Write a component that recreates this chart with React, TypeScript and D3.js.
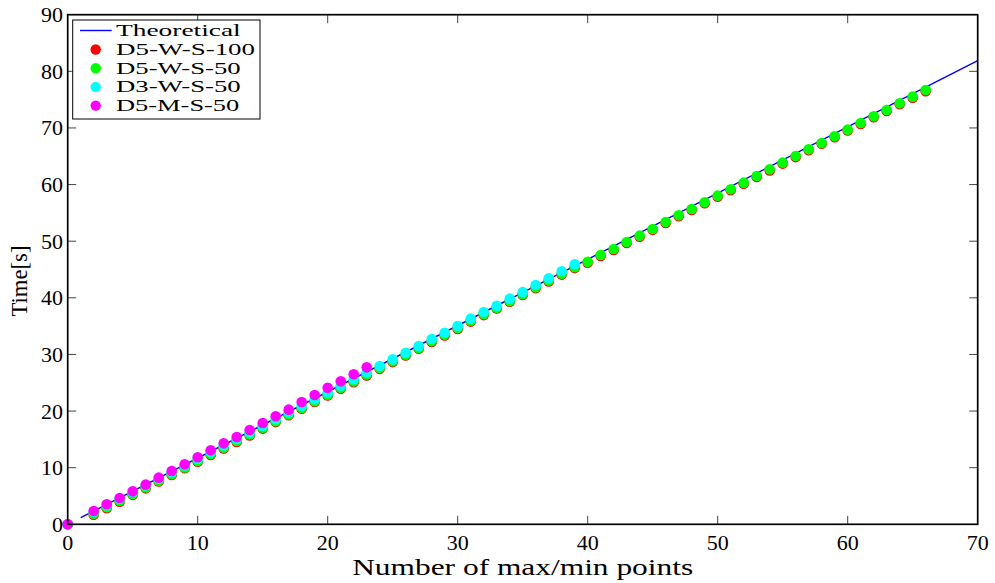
import React from "react";
import * as d3 from "d3";

// Number of max/min points for each run
const longRunX = [0, 2, 3, 4, 5, 6, 7, 8, 9, 10, 11, 12, 13, 14, 15, 16, 17, 18, 19, 20, 21, 22, 23, 24, 25, 26, 27, 28, 29, 30, 31, 32, 33, 34, 35, 36, 37, 38, 39, 40, 41, 42, 43, 44, 45, 46, 47, 48, 49, 50, 51, 52, 53, 54, 55, 56, 57, 58, 59, 60, 61, 62, 63, 64, 65, 66];
const midRunX = [0, 2, 3, 4, 5, 6, 7, 8, 9, 10, 11, 12, 13, 14, 15, 16, 17, 18, 19, 20, 21, 22, 23, 24, 25, 26, 27, 28, 29, 30, 31, 32, 33, 34, 35, 36, 37, 38, 39];
const shortRunX = [0, 2, 3, 4, 5, 6, 7, 8, 9, 10, 11, 12, 13, 14, 15, 16, 17, 18, 19, 20, 21, 22, 23];

// Measured times [s]
const d5ws100 = [0, 1.7, 2.85, 4.0, 5.2, 6.35, 7.55, 8.7, 9.9, 11.05, 12.25, 13.4, 14.55, 15.7, 16.9, 18.05, 19.25, 20.4, 21.6, 22.75, 23.95, 25.1, 26.3, 27.45, 28.65, 29.8, 31.0, 32.2, 33.35, 34.5, 35.8, 36.95, 38.1, 39.3, 40.5, 41.7, 42.9, 44.1, 45.25, 46.2, 47.4, 48.45, 49.7, 50.8, 52.0, 53.2, 54.4, 55.5, 56.7, 57.85, 59.0, 60.15, 61.35, 62.5, 63.7, 64.85, 66.05, 67.2, 68.35, 69.55, 70.7, 71.9, 73.0, 74.2, 75.35, 76.5];
const d5ws50 = [0, 1.85, 3.0, 4.15, 5.35, 6.5, 7.7, 8.85, 10.05, 11.2, 12.4, 13.55, 14.7, 15.85, 17.05, 18.2, 19.4, 20.55, 21.75, 22.9, 24.1, 25.25, 26.45, 27.6, 28.8, 29.95, 31.15, 32.35, 33.5, 34.65, 35.95, 37.1, 38.25, 39.45, 40.65, 41.85, 43.05, 44.25, 45.4, 46.35, 47.55, 48.62, 49.86, 50.98, 52.15, 53.39, 54.57, 55.69, 56.87, 58.04, 59.16, 60.34, 61.52, 62.69, 63.87, 65.05, 66.23, 67.35, 68.53, 69.7, 70.88, 72.06, 73.18, 74.36, 75.53, 76.7];
const d3ws50 = [0, 2.2, 3.35, 4.5, 5.7, 6.85, 8.05, 9.2, 10.4, 11.55, 12.75, 13.9, 15.05, 16.2, 17.4, 18.55, 19.75, 20.9, 22.1, 23.25, 24.45, 25.6, 26.8, 27.96, 29.13, 30.31, 31.49, 32.73, 33.84, 35.02, 36.32, 37.5, 38.61, 39.85, 41.03, 42.27, 43.45, 44.68, 45.91];
const d5ms50 = [0, 2.35, 3.53, 4.64, 5.82, 7.0, 8.24, 9.41, 10.59, 11.83, 13.06, 14.3, 15.4, 16.65, 17.89, 19.07, 20.25, 21.6, 22.84, 24.1, 25.25, 26.49, 27.72];

// Theoretical time line
const theoryX = [1, 70];
const theoryY = [1.17, 81.9];

const xTicks = [0, 10, 20, 30, 40, 50, 60, 70];
const yTicks = [0, 10, 20, 30, 40, 50, 60, 70, 80, 90];

const seriesNames = ["D5-W-S-100", "D5-W-S-50", "D3-W-S-50", "D5-M-S-50"];
const seriesColors = ["#ff0000", "#00ff00", "#00ffff", "#ff00ff"];

const W = 995;
const H = 583;
const left = 67.7;
const right = 977.7;
const top = 14.7;
const bottom = 524.3;
const FONT = "Liberation Serif";

export default function App() {
  const x = d3.scaleLinear().domain([0, 70]).range([left, right]);
  const y = d3.scaleLinear().domain([0, 90]).range([bottom, top]);

  const series = [
    { xs: longRunX, ys: d5ws100 },
    { xs: longRunX, ys: d5ws50 },
    { xs: midRunX, ys: d3ws50 },
    { xs: shortRunX, ys: d5ms50 },
  ];

  const line = d3
    .line<number>()
    .x((_, i) => x(theoryX[i]))
    .y((d) => y(d));

  const tickLen = 8.5;
  const legendLabelWidths = [139, 124.7, 124.7, 123.3];
  const legendFont = 16;

  return (
    <svg
      width={W}
      height={H}
      style={{ position: "absolute", left: 0, top: 0, background: "#fff" }}
    >
      <rect x={0} y={0} width={W} height={H} fill="#fff" />

      {/* theoretical line */}
      <path d={line(theoryY) || ""} fill="none" stroke="#0000ff" strokeWidth={1.4} />

      {/* measured points */}
      {series.map((s, si) => (
        <g key={si} fill={seriesColors[si]}>
          {s.ys.map((v, i) => (
            <circle key={i} cx={x(s.xs[i])} cy={y(v)} r={5.3} />
          ))}
        </g>
      ))}

      {/* ticks, mirrored on all four sides */}
      <g stroke="#444" strokeWidth={1}>
        {xTicks.slice(1, -1).map((t) => (
          <g key={t}>
            <line x1={x(t)} x2={x(t)} y1={bottom} y2={bottom - tickLen} />
            <line x1={x(t)} x2={x(t)} y1={top} y2={top + tickLen} />
          </g>
        ))}
        {yTicks.slice(1, -1).map((t) => (
          <g key={t}>
            <line x1={left} x2={left + tickLen} y1={y(t)} y2={y(t)} />
            <line x1={right} x2={right - tickLen} y1={y(t)} y2={y(t)} />
          </g>
        ))}
      </g>

      {/* axes box */}
      <rect
        x={left}
        y={top}
        width={right - left}
        height={bottom - top}
        fill="none"
        stroke="#000"
        strokeWidth={1.7}
      />

      {/* tick labels */}
      <g fontSize={22} fill="#000" fontFamily={FONT}>
        {xTicks.map((t) => (
          <text key={t} x={x(t)} y={550} textAnchor="middle">
            {t}
          </text>
        ))}
        {yTicks.map((t) => (
          <text key={t} x={63} y={y(t) + 7.5} textAnchor="end">
            {t}
          </text>
        ))}
      </g>

      {/* axis labels */}
      <text
        x={(left + right) / 2}
        y={575}
        textAnchor="middle"
        fontSize={24}
        fontFamily={FONT}
        textLength={341}
        lengthAdjust="spacingAndGlyphs"
      >
        Number of max/min points
      </text>
      <text
        transform={`translate(27, 281) rotate(-90)`}
        textAnchor="middle"
        fontSize={24}
        fontFamily={FONT}
        textLength={71}
        lengthAdjust="spacingAndGlyphs"
      >
        Time[s]
      </text>

      {/* legend */}
      <g fontFamily={FONT}>
        <rect x={72.7} y={20} width={187.3} height={99} fill="#fff" stroke="#000" strokeWidth={1} />
        <line x1={80} x2={111.7} y1={30.5} y2={30.5} stroke="#0000ff" strokeWidth={1.4} />
        <text
          x={116}
          y={30.5}
          dominantBaseline="central"
          fontSize={legendFont}
          textLength={124.7}
          lengthAdjust="spacingAndGlyphs"
        >
          Theoretical
        </text>
        {seriesNames.map((name, i) => {
          const cy = 49.5 + i * 18.7;
          return (
            <g key={name}>
              <circle cx={95.7} cy={cy} r={5.2} fill={seriesColors[i]} />
              <text
                x={116}
                y={cy}
                dominantBaseline="central"
                fontSize={legendFont}
                textLength={legendLabelWidths[i]}
                lengthAdjust="spacingAndGlyphs"
              >
                {name}
              </text>
            </g>
          );
        })}
      </g>
    </svg>
  );
}
